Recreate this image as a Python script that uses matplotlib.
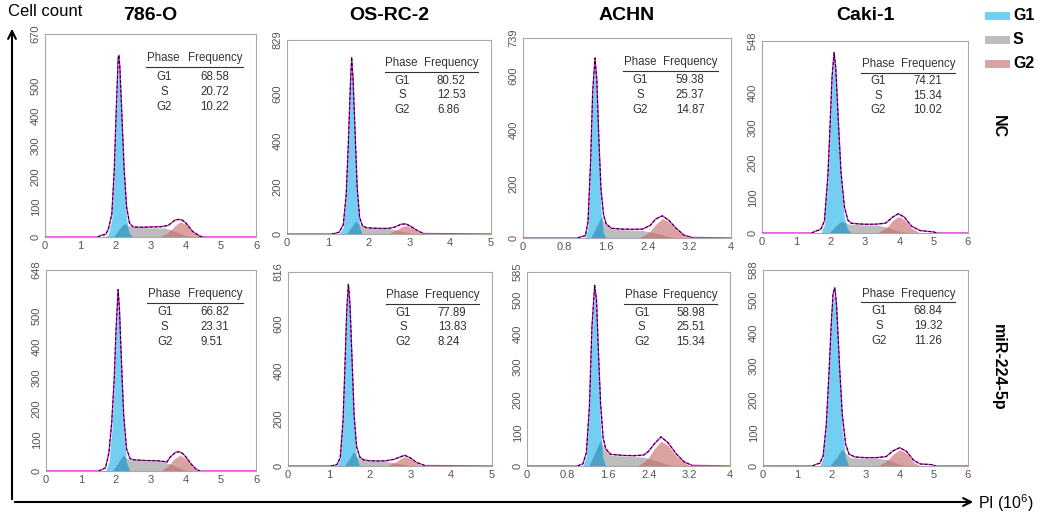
import numpy as np
import matplotlib
matplotlib.use("Agg")
import matplotlib.pyplot as plt
from matplotlib.patches import FancyArrowPatch, Rectangle

plt.rcParams["font.family"] = ["Liberation Sans", "DejaVu Sans"]
plt.rcParams["mathtext.default"] = "regular"

W, H = 1039, 516

cells = ["786-O", "OS-RC-2", "ACHN", "Caki-1"]
groups = ["NC", "miR-224-5p"]
phases = ["G1", "S", "G2"]

# panel order: NC row (786-O, OS-RC-2, ACHN, Caki-1), then miR-224-5p row
x_max = [6, 5, 4, 6, 6, 5, 4, 6]
y_max = [670, 829, 739, 548, 648, 816, 585, 588]
y_ticks = [
    [0, 100, 200, 300, 400, 500, 670],
    [0, 200, 400, 600, 829],
    [0, 200, 400, 600, 739],
    [0, 100, 200, 300, 400, 548],
    [0, 100, 200, 300, 400, 500, 648],
    [0, 200, 400, 600, 816],
    [0, 100, 200, 300, 400, 500, 585],
    [0, 100, 200, 300, 400, 500, 588],
]
x_ticks_6 = [0, 1, 2, 3, 4, 5, 6]
x_ticks_5 = [0, 1, 2, 3, 4, 5]
x_ticks_4 = [0, 0.8, 1.6, 2.4, 3.2, 4]

freq = [
    ["68.58", "20.72", "10.22"],
    ["80.52", "12.53", "6.86"],
    ["59.38", "25.37", "14.87"],
    ["74.21", "15.34", "10.02"],
    ["66.82", "23.31", "9.51"],
    ["77.89", "13.83", "8.24"],
    ["58.98", "25.51", "15.34"],
    ["68.84", "19.32", "11.26"],
]

g1_x = [
    [1.70, 1.80, 1.90, 1.97, 2.03, 2.08, 2.10, 2.13, 2.18, 2.25, 2.32, 2.40, 2.50],
    [1.28, 1.38, 1.45, 1.50, 1.55, 1.585, 1.62, 1.67, 1.72, 1.78, 1.85],
    [1.20, 1.25, 1.30, 1.34, 1.385, 1.42, 1.46, 1.50, 1.55, 1.60],
    [1.72, 1.82, 1.92, 1.98, 2.04, 2.10, 2.15, 2.22, 2.30, 2.40, 2.50, 2.60],
    [1.70, 1.80, 1.88, 1.95, 2.00, 2.06, 2.10, 2.15, 2.22, 2.30, 2.40],
    [1.20, 1.28, 1.35, 1.40, 1.44, 1.48, 1.52, 1.57, 1.62, 1.68, 1.76],
    [1.10, 1.17, 1.23, 1.28, 1.334, 1.37, 1.41, 1.45, 1.50, 1.55],
    [1.66, 1.76, 1.85, 1.93, 2.00, 2.05, 2.10, 2.15, 2.24, 2.32, 2.42, 2.52],
]
g1_y = [
    [0, 8, 60, 200, 400, 555, 575, 540, 380, 180, 60, 12, 0],
    [0, 30, 150, 350, 600, 725, 620, 380, 150, 30, 0],
    [0, 40, 260, 520, 650, 540, 300, 110, 20, 0],
    [0, 25, 150, 280, 430, 500, 450, 300, 140, 45, 10, 0],
    [0, 30, 130, 280, 430, 545, 490, 330, 130, 30, 0],
    [0, 30, 180, 420, 640, 745, 640, 400, 160, 40, 0],
    [0, 30, 170, 400, 530, 450, 270, 110, 25, 0],
    [0, 25, 110, 265, 420, 500, 520, 470, 265, 110, 25, 0],
]
s_x = [
    [1.95, 2.10, 2.25, 2.35, 2.50, 3.00, 3.40, 3.70, 4.00, 4.20],
    [1.45, 1.58, 1.68, 1.78, 1.95, 2.30, 2.55, 2.80, 3.05, 3.25],
    [1.30, 1.42, 1.50, 1.58, 1.70, 2.00, 2.30, 2.55, 2.80, 3.00],
    [1.95, 2.15, 2.30, 2.40, 2.55, 3.00, 3.40, 3.70, 4.00, 4.30],
    [1.90, 2.05, 2.20, 2.30, 2.45, 2.80, 3.20, 3.40, 3.60, 3.90, 4.10],
    [1.38, 1.50, 1.60, 1.70, 1.85, 2.10, 2.40, 2.65, 2.90, 3.10],
    [1.22, 1.35, 1.45, 1.53, 1.65, 2.00, 2.30, 2.50, 2.75, 2.95],
    [1.95, 2.15, 2.30, 2.40, 2.55, 3.00, 3.40, 3.70, 4.00, 4.30],
]
s_y = [
    [0, 25, 45, 38, 32, 30, 30, 18, 5, 0],
    [0, 30, 55, 40, 26, 24, 22, 12, 3, 0],
    [0, 45, 79, 50, 34, 30, 28, 18, 5, 0],
    [0, 20, 34, 30, 25, 23, 22, 15, 5, 0],
    [0, 25, 51, 42, 35, 33, 32, 28, 20, 5, 0],
    [0, 30, 60, 40, 24, 20, 20, 12, 4, 0],
    [0, 45, 78, 50, 32, 29, 27, 18, 5, 0],
    [0, 25, 50, 40, 25, 23, 23, 17, 5, 0],
]
g2_x = [
    [3.30, 3.50, 3.70, 3.85, 4.00, 4.20, 4.40, 4.50],
    [2.50, 2.65, 2.80, 2.92, 3.05, 3.20, 3.35],
    [2.25, 2.40, 2.55, 2.68, 2.80, 2.95, 3.10, 3.20],
    [3.40, 3.60, 3.80, 3.97, 4.15, 4.35, 4.60],
    [3.30, 3.50, 3.65, 3.83, 4.00, 4.15, 4.35],
    [2.45, 2.60, 2.75, 2.86, 3.00, 3.15, 3.30],
    [2.20, 2.35, 2.50, 2.64, 2.78, 2.95, 3.20],
    [3.40, 3.60, 3.80, 4.00, 4.20, 4.40, 4.60],
]
g2_y = [
    [0, 12, 38, 50, 42, 15, 3, 0],
    [0, 12, 30, 36, 28, 10, 0],
    [0, 15, 50, 72, 60, 30, 8, 0],
    [0, 12, 35, 47, 38, 15, 0],
    [0, 15, 38, 51, 40, 18, 0],
    [0, 12, 30, 39, 30, 12, 0],
    [0, 15, 50, 75, 62, 28, 0],
    [0, 12, 35, 49, 38, 12, 0],
]
tot_x = [
    [0, 1.50, 1.60, 1.72, 1.80, 1.90, 1.97, 2.03, 2.08, 2.10, 2.13, 2.18, 2.25, 2.32, 2.40, 2.50,
     2.80, 3.00, 3.30, 3.50, 3.70, 3.80, 3.90, 4.00, 4.20, 4.40, 4.50, 6],
    [0, 1.10, 1.20, 1.28, 1.38, 1.45, 1.50, 1.55, 1.585, 1.62, 1.67, 1.72, 1.78, 1.85, 1.95, 2.10,
     2.30, 2.50, 2.65, 2.80, 2.92, 3.05, 3.20, 3.35, 5],
    [0, 1.05, 1.12, 1.20, 1.25, 1.30, 1.34, 1.385, 1.42, 1.46, 1.50, 1.55, 1.60, 1.70, 1.90, 2.10,
     2.30, 2.45, 2.55, 2.68, 2.80, 2.95, 3.10, 3.25, 4],
    [0, 1.45, 1.55, 1.65, 1.72, 1.82, 1.92, 1.98, 2.04, 2.10, 2.15, 2.22, 2.30, 2.40, 2.50, 2.60,
     2.80, 3.00, 3.30, 3.60, 3.80, 3.97, 4.15, 4.35, 4.60, 4.80, 5.00, 5.10, 6],
    [0, 1.50, 1.60, 1.70, 1.80, 1.88, 1.95, 2.00, 2.06, 2.10, 2.15, 2.22, 2.30, 2.40, 2.50, 2.80,
     3.20, 3.40, 3.45, 3.55, 3.70, 3.80, 3.90, 4.00, 4.15, 4.30, 4.40, 6],
    [0, 1.05, 1.15, 1.20, 1.28, 1.35, 1.40, 1.44, 1.48, 1.52, 1.57, 1.62, 1.68, 1.76, 1.85, 2.00,
     2.20, 2.40, 2.60, 2.75, 2.86, 3.00, 3.15, 3.35, 5],
    [0, 1.00, 1.05, 1.10, 1.17, 1.23, 1.28, 1.334, 1.37, 1.41, 1.45, 1.50, 1.55, 1.65, 1.90, 2.10,
     2.30, 2.40, 2.50, 2.64, 2.78, 2.95, 3.10, 3.25, 4],
    [0, 1.45, 1.55, 1.66, 1.76, 1.85, 1.93, 2.00, 2.05, 2.10, 2.15, 2.24, 2.32, 2.42, 2.52, 2.70,
     3.00, 3.30, 3.60, 3.80, 4.00, 4.20, 4.40, 4.60, 4.80, 4.95, 5.05, 6],
]
tot_y = [
    [0, 0, 6, 8, 25, 75, 220, 430, 590, 600, 560, 420, 225, 100, 47, 33,
     32, 33, 34, 38, 56, 58, 56, 47, 18, 3, 0, 0],
    [0, 0, 4, 8, 40, 165, 370, 620, 755, 660, 430, 200, 70, 35, 27, 25,
     24, 24, 30, 42, 43, 31, 14, 2, 0],
    [0, 0, 5, 8, 60, 280, 540, 665, 585, 360, 180, 85, 52, 36, 33, 32,
     33, 47, 70, 82, 66, 35, 10, 2, 0],
    [0, 0, 5, 8, 12, 35, 165, 300, 445, 515, 470, 328, 174, 75, 37, 28,
     26, 25, 25, 28, 45, 55, 45, 20, 7, 5, 3, 0, 0],
    [0, 0, 5, 10, 60, 160, 300, 450, 585, 520, 370, 180, 72, 40, 36, 34,
     33, 30, 28, 45, 60, 62, 57, 45, 22, 5, 0, 0],
    [0, 0, 4, 6, 35, 190, 440, 655, 765, 680, 448, 215, 82, 38, 26, 22,
     21, 22, 28, 38, 45, 34, 15, 2, 0],
    [0, 0, 4, 6, 40, 180, 420, 545, 500, 335, 188, 85, 52, 35, 32, 31,
     33, 45, 65, 88, 70, 35, 12, 2, 0],
    [0, 0, 5, 8, 30, 120, 275, 430, 515, 535, 490, 300, 155, 65, 35, 27,
     25, 25, 28, 45, 55, 44, 18, 6, 5, 4, 0, 0],
]

BLUE = "#72cff2"
DARK_BLUE = "#4aa3c6"
GREY = "#bdbdbd"
PINK = "#dba2a2"
DARK_PINK = "#c48585"
MAGENTA = "#e021e0"

# axes boxes in pixels: left, top, right, bottom
boxes = [
    (45, 34, 256, 237), (287, 40, 491, 234), (523, 38, 731, 238), (762, 41, 968, 233),
    (46, 270, 256, 471), (288, 272, 492, 466), (527, 272, 730, 466), (763, 270, 968, 466),
]


def fx(x):
    return x / W


def fy(y):
    return 1 - y / H


def draw_panel(ax, i):
    ax.fill_between(s_x[i], s_y[i], color=GREY, lw=0, zorder=1)
    g1 = ax.fill_between(g1_x[i], g1_y[i], color=BLUE, lw=0, zorder=2)
    g2 = ax.fill_between(g2_x[i], g2_y[i], color=PINK, lw=0, zorder=2)
    # where S sits under G1 / G2 the colour gets darker
    for poly, col in ((g1, DARK_BLUE), (g2, DARK_PINK)):
        ov = ax.fill_between(s_x[i], s_y[i], color=col, lw=0, zorder=3)
        ov.set_clip_path(poly.get_paths()[0], ax.transData)
    ax.plot(tot_x[i], tot_y[i], color=MAGENTA, lw=1.0, zorder=4)
    # measured histogram only where there are events
    ax.plot(tot_x[i][1:-1], tot_y[i][1:-1], color="black", lw=0.7, ls=(0, (3, 2)), zorder=5)

    ax.set_xlim(0, x_max[i])
    ax.set_ylim(0, y_max[i])
    xt = {6: x_ticks_6, 5: x_ticks_5, 4: x_ticks_4}[x_max[i]]
    ax.set_xticks(xt)
    ax.set_xticklabels([("%g" % v) for v in xt])
    ax.set_yticks(y_ticks[i])
    ax.set_yticklabels([str(v) for v in y_ticks[i]], rotation=90, va="center")
    ax.tick_params(length=0, labelsize=8, labelcolor="#555555", pad=3)
    for sp in ax.spines.values():
        sp.set_color("#a8a8a8")
        sp.set_linewidth(0.8)

    # phase table
    tc = "#333333"
    fs = 8.3
    ax.text(0.562, 0.88, "Phase", transform=ax.transAxes, ha="center", va="center", fontsize=fs, color=tc)
    ax.text(0.805, 0.88, "Frequency", transform=ax.transAxes, ha="center", va="center", fontsize=fs, color=tc)
    ax.plot([0.48, 0.937], [0.835, 0.835], transform=ax.transAxes, color=tc, lw=0.8, clip_on=False)
    for r, ph in enumerate(phases):
        yy = 0.79 - r * 0.075
        ax.text(0.565, yy, ph, transform=ax.transAxes, ha="center", va="center", fontsize=fs, color=tc)
        ax.text(0.735, yy, freq[i][r], transform=ax.transAxes, ha="left", va="center", fontsize=fs, color=tc)


fig = plt.figure(figsize=(W / 100, H / 100), dpi=100)

for i, (l, t, r, b) in enumerate(boxes):
    ax = fig.add_axes([fx(l), fy(b), (r - l) / W, (b - t) / H])
    draw_panel(ax, i)
    if i < 4:
        fig.text(fx((l + r) / 2), fy(16), cells[i], ha="center", va="center",
                 fontsize=14, fontweight="bold")

# big axes arrows
fig.add_artist(FancyArrowPatch((fx(12), fy(502)), (fx(12), fy(26)), transform=fig.transFigure,
                               arrowstyle="->", mutation_scale=14, lw=1.5, color="black"))
fig.add_artist(FancyArrowPatch((fx(12), fy(502)), (fx(976), fy(502)), transform=fig.transFigure,
                               arrowstyle="->", mutation_scale=14, lw=1.5, color="black"))
fig.text(fx(8), fy(12), "Cell count", ha="left", va="center", fontsize=12)
fig.text(fx(978), fy(503), "PI (10$^6$)", ha="left", va="center", fontsize=11.5)

# row labels
fig.text(fx(998), fy(127), groups[0], rotation=270, ha="center", va="center", fontsize=11.5, fontweight="bold")
fig.text(fx(998), fy(367), groups[1], rotation=270, ha="center", va="center", fontsize=11.5, fontweight="bold")

# legend
for k, (ph, col) in enumerate(zip(phases, [BLUE, GREY, PINK])):
    yc = 16 + k * 24
    fig.add_artist(Rectangle((fx(985), fy(yc + 3.5)), 25 / W, 7 / H, transform=fig.transFigure,
                             facecolor=col, edgecolor="none"))
    fig.text(fx(1013), fy(yc), ph, ha="left", va="center", fontsize=11.5, fontweight="bold")

fig.savefig("out.png", dpi=100)
